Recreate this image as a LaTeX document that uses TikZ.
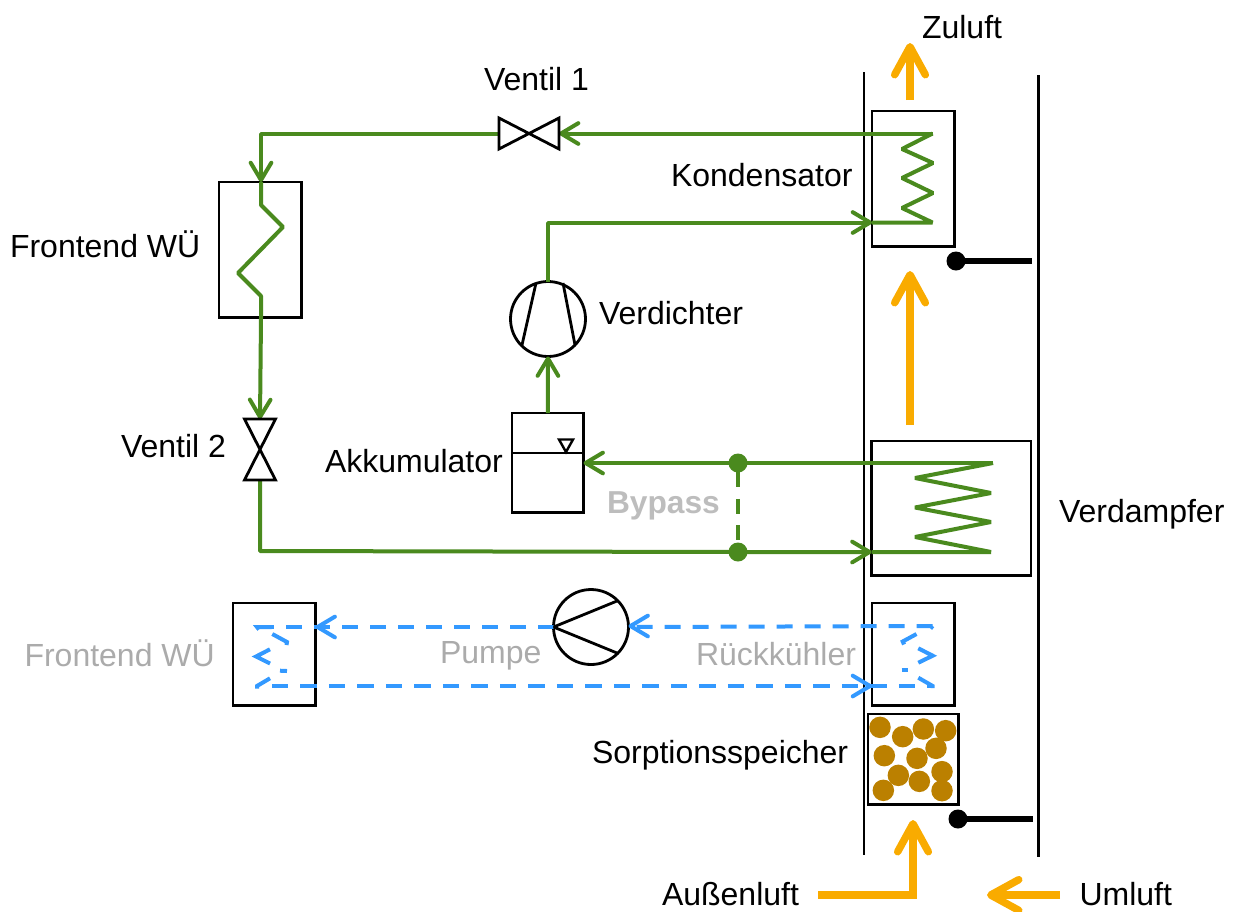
\documentclass[tikz,border=0pt]{standalone}
\usepackage{fontspec}
\setmainfont{Liberation Sans}
\usetikzlibrary{arrows.meta,calc}
\definecolor{gr}{HTML}{4A8A1E}
\definecolor{bl}{HTML}{3399FF}
\definecolor{org}{HTML}{F9AB00}
\definecolor{brn}{HTML}{BB8000}
\definecolor{gy}{HTML}{ABABAB}
\definecolor{gyb}{HTML}{BDBDBD}
\def\px{0.75pt}
\tikzset{
  x=0.75pt,y=-0.75pt,
  box/.style={draw=black,line width=2.1pt,inner sep=0pt,outer sep=0pt,fill=none},
  circ/.style={circle,draw=black,line width=2.1pt,inner sep=0pt,outer sep=0pt,minimum size=75*\px},
  blk/.style={draw=black,line width=2.1pt,line join=miter},
  valve/.style={inner sep=0pt,outer sep=0pt},
  wall/.style={draw=black,line width=2.1pt},
  gline/.style={draw=gr,line width=3pt,line join=bevel},
  bline/.style={draw=bl,line width=3pt,dash pattern=on 12pt off 9pt},
  blinelong/.style={draw=bl,line width=3pt,dash pattern=on 12.15pt off 9.22pt},
  bsolid/.style={draw=bl,line width=3pt,line join=miter},
  oline/.style={draw=org,line width=5.6pt,line join=miter},
  garrow/.style={-{Straight Barb[length=13pt,width=15.5pt,round]}},
  oarrow/.style={-{Straight Barb[length=21pt,width=23pt,round]}},
  gdot/.style={circle,fill=gr,inner sep=0pt,outer sep=0pt,minimum size=19*\px},
  kdot/.style={circle,fill=black,inner sep=0pt,outer sep=0pt,minimum size=19*\px},
  grain/.style={circle,fill=brn,inner sep=0pt,minimum size=21.5*\px},
  lab/.style={anchor=base west,inner sep=0pt,outer sep=0pt,font=\fontsize{24}{28}\selectfont},
}
\begin{document}
\begin{tikzpicture}
\useasboundingbox (0,0) rectangle (1237,911);
% duct walls
\coordinate (wl1) at (864,72); \coordinate (wl2) at (864,855);
\coordinate (wr1) at (1038.5,75); \coordinate (wr2) at (1038.5,857);
\draw[wall] (wl1) -- (wl2);
\draw[wall] (wr1) -- (wr2);
% grains
\foreach \zx/\zy in {120/412,188/440,250/417,317/422,133/497,231/505,288/475,175/556,238/574,306/545,130/601,306/602}
  \node[grain] at ({840+\zx/3},{590+\zy/3}) {};
% boxes
\node[box,minimum width=82.5*\px,minimum height=135.5*\px] (kond) at (913.3,178.8) {};
\node[box,minimum width=82.5*\px,minimum height=135.5*\px] (fw) at (260.3,249.8) {};
\node[box,minimum width=71.5*\px,minimum height=99.5*\px] (akku) at (547.8,462.8) {};
\node[box,minimum width=159.5*\px,minimum height=134.5*\px] (verd) at (951.3,508.3) {};
\node[box,minimum width=82.5*\px,minimum height=102.5*\px] (fw2) at (274.3,654.3) {};
\node[box,minimum width=82.5*\px,minimum height=102.5*\px] (rk) at (913.3,654.3) {};
\node[box,minimum width=90.5*\px,minimum height=90.5*\px] (sorp) at (913.3,759.3) {};
\node[circ] (comp) at (548,319) {};
\node[circ] (pump) at (591,627) {};
\node[valve,minimum width=60*\px,minimum height=31*\px] (v1) at (529,133.5) {};
\node[valve,minimum width=31*\px,minimum height=61*\px] (v2) at (260,449.5) {};
\node[gdot] (d1) at (738,463) {};
\node[gdot] (d2) at (738,552) {};
\node[kdot] (k1) at (956,261) {};
\node[kdot] (k2) at (958,819) {};
% coordinates
\coordinate (kt) at (932.5,133.5);
\coordinate (kb) at (932.5,222.5);
\coordinate (vt) at (993,463);
\coordinate (vb) at (991,552);
\coordinate (cl) at (261,133.5);
\coordinate (ca) at (548,222.5);
\coordinate (pb) at (260,551);
% green circuit
\draw[gline,garrow] (kt) -- (v1.east);
\draw[gline,garrow] (v1.west) -- (cl) -- (fw.north-|cl);
\draw[gline] (fw.north-|cl) -- (261,205) -- (283,227) -- (238,273) -- (261,296) -- (261,318);
\draw[gline,garrow] (261,318) -- (v2.north);
\draw[gline,garrow] (comp.north) -- (ca) -- (kond.west|-ca);
\draw[gline] (kond.west|-ca) -- (kb) -- (902,208) -- (933,193) -- (902,178) -- (933,163) -- (902,149) -- (kt);
\draw[gline,garrow] (akku.north) -- (comp.south);
\draw[gline,garrow] (vt) -- (akku.east|-vt);
\draw[gline,garrow] (v2.south) -- (pb) -- (d2.center) -- (verd.west|-d2);
\draw[gline] (verd.west|-d2) -- (vb) -- (915,537) -- (991,522) -- (915,507.5) -- (991,493) -- (915,478) -- (vt);
\draw[draw=gr,line width=3pt,dash pattern=on 11.3pt off 8.6pt,dash phase=-7pt] (d1.center) -- (d2.center);
% blue circuit
\coordinate (rb) at (932.7,686);
\coordinate (rt) at (932.7,626);
\coordinate (lb) at (257,686);
\coordinate (lt) at (257,627);
\coordinate (lbs) at (272,686);
\draw[bline] (rt) -- (pump.east);
\draw[bsolid,garrow] ($(pump.east)+(3,-1)$) -- ($(pump.east)+(0,-1)$);
\draw[bline] (pump.west) -- (lt);
\draw[bsolid,garrow] ($(fw2.east|-lt)+(3,0)$) -- (fw2.east|-lt);
\draw[blinelong] (lbs) -- (rb);
\draw[bsolid,garrow] ($(rk.west|-lb)+(-3,0)$) -- (rk.west|-lb);
% left coil strokes
\draw[bsolid] (271.5,627) -- (lt) -- (259,629.5);
\draw[bsolid] (272.3,634) -- (287,642) -- (286.5,645);
\draw[bsolid] (270,649.3) -- (256,656.5) -- (270,663.5);
\draw[bsolid] (280,670.7) -- (287,671);
\draw[bsolid] (270,678.3) -- (257,686) -- (257,688.5);
% right coil strokes
\draw[bsolid] (930.5,628.5) -- (rt);
\draw[bsolid] (916.5,634) -- (902.7,641.5) -- (904,644.5);
\draw[bsolid] (918.3,648.3) -- (932.7,655.7) -- (918.3,662.7);
\draw[bsolid] (901.5,670.3) -- (908,670.3);
\draw[bsolid] (918.3,677.7) -- (rb) -- (932.7,688);
% pump and compressor inner lines
\draw[blk] (pump.west) -- (617,601);
\draw[blk] (pump.west) -- (617,653);
\draw[blk] (536,283) -- (522,345);
\draw[blk] (563,283) -- (575,345);
% valves
\draw[blk] (v1.north west) -- (v1.south east) -- (v1.north east) -- (v1.south west) -- cycle;
\draw[blk] (v2.north west) -- (v2.south east) -- (v2.south west) -- (v2.north east) -- cycle;
% accumulator details
\draw[blk] (akku.west|-0,453) -- (akku.east|-0,453);
\draw[draw=black,line width=1.8pt,line join=miter] (559,439.5) -- (573,439.5) -- (566,452) -- cycle;
% dampers
\coordinate (k1e) at (1032,261);
\coordinate (k2e) at (1033,819);
\draw[draw=black,line width=4.2pt] (k1.center) -- (k1e);
\draw[draw=black,line width=4.2pt] (k2.center) -- (k2e);
% orange arrows
\coordinate (a1) at (910,100); \coordinate (a2) at (910,43);
\coordinate (b1) at (910,425); \coordinate (b2) at (910,271);
\coordinate (c1) at (818,895); \coordinate (c2) at (913,895); \coordinate (c3) at (913,820);
\coordinate (e1) at (1060,895); \coordinate (e2) at (987,895);
\draw[oline,oarrow] (a1) -- (a2);
\draw[oline,oarrow] (b1) -- (b2);
\draw[oline,oarrow] (c1) -- (c2) -- (c3);
\draw[oline,oarrow] (e1) -- (e2);
% labels
\node[lab] (t1) at (922,38) {Zuluft};
\node[lab] (t2) at (484,90) {Ventil 1};
\node[lab] (t3) at (671,186) {Kondensator};
\node[lab] (t4) at (10,257) {Frontend WÜ};
\node[lab] (t5) at (599,324) {Verdichter};
\node[lab] (t6) at (121,457) {Ventil 2};
\node[lab] (t7) at (325,472) {Akkumulator};
\node[lab,text=gyb,font=\fontsize{23.8}{28}\selectfont\bfseries] (t8) at (607,513) {Bypass};
\node[lab] (t9) at (1059,522) {Verdampfer};
\node[lab,text=gy] (t10) at (24.5,666) {Frontend WÜ};
\node[lab,text=gy] (t11) at (440,663) {Pumpe};
\node[lab,text=gy] (t12) at (696,665) {Rückkühler};
\node[lab] (t13) at (592,763) {Sorptionsspeicher};
\node[lab] (t14) at (662,905) {Außenluft};
\node[lab] (t15) at (1079.5,905) {Umluft};
\end{tikzpicture}
\end{document}
